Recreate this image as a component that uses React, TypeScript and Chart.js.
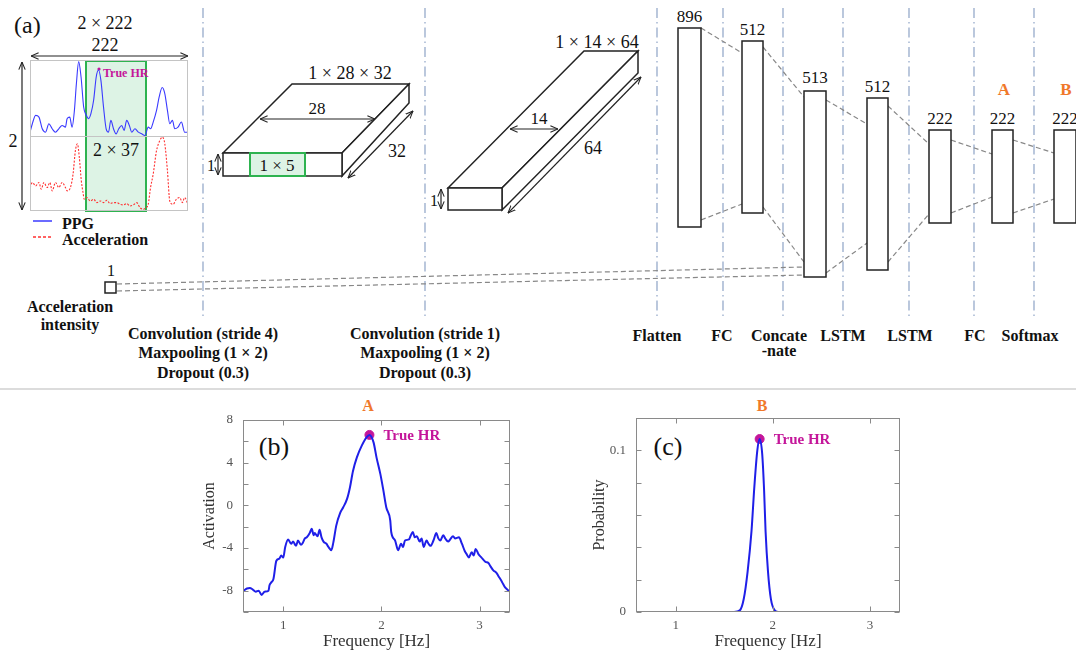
import React, { useEffect, useRef } from 'react';
import { Chart, registerables } from 'chart.js';
Chart.register(...registerables);

// ---------- data: (b) activation of layer A ----------
const activationA: [number, number][] = [
  [0.59, -8.05], [0.63, -7.8], [0.66, -7.75], [0.69, -7.9], [0.72, -8.1], [0.75, -8.0], [0.78, -8.4],
  [0.81, -8.1], [0.85, -8.0], [0.86, -7.5], [0.88, -7.2], [0.9, -6.9], [0.93, -5.2], [0.96, -5.0],
  [0.98, -4.7], [1.0, -4.9], [1.02, -3.9], [1.05, -3.2], [1.08, -3.6], [1.1, -3.4], [1.13, -3.8],
  [1.15, -3.3], [1.18, -3.7], [1.2, -3.5], [1.22, -3.1], [1.24, -3.0], [1.27, -2.6], [1.29, -2.2],
  [1.31, -2.8], [1.32, -2.6], [1.35, -2.9], [1.37, -2.3], [1.39, -3.0], [1.41, -3.4], [1.44, -3.6],
  [1.46, -3.9], [1.49, -4.2], [1.51, -3.5], [1.54, -1.9], [1.58, -0.7], [1.61, -0.2], [1.65, 0.6],
  [1.68, 1.7], [1.71, 3.2], [1.75, 4.5], [1.8, 5.6], [1.85, 6.4], [1.878, 6.6], [1.92, 5.9],
  [1.95, 4.5], [1.99, 2.9], [2.02, 1.4], [2.05, -0.2], [2.09, -1.4], [2.1, -2.5], [2.14, -3.3],
  [2.17, -4.2], [2.2, -3.6], [2.22, -3.9], [2.24, -3.3], [2.28, -3.2], [2.3, -2.8], [2.32, -2.5],
  [2.34, -3.0], [2.36, -2.9], [2.39, -3.4], [2.41, -3.1], [2.43, -3.9], [2.46, -3.3], [2.48, -3.6],
  [2.5, -3.8], [2.53, -3.3], [2.56, -2.6], [2.58, -3.1], [2.6, -3.3], [2.63, -2.8], [2.65, -3.1],
  [2.68, -3.4], [2.7, -3.2], [2.73, -2.9], [2.75, -3.1], [2.79, -3.0], [2.82, -3.6], [2.85, -4.3],
  [2.87, -4.6], [2.89, -4.9], [2.92, -4.4], [2.94, -4.7], [2.96, -4.1], [2.99, -4.6], [3.02, -4.9],
  [3.06, -5.3], [3.09, -5.4], [3.11, -5.7], [3.14, -6.1], [3.17, -6.3], [3.19, -6.6], [3.23, -7.2],
  [3.26, -7.7], [3.31, -8.1],
];
const trueHrA: [number, number] = [1.878, 6.6];

// ---------- data: (c) softmax probability of layer B ----------
const probabilityB: [number, number][] = [
  [0.59, 0], [1.6, 0], [1.66, 0.001], [1.7, 0.008], [1.74, 0.025], [1.78, 0.05], [1.81, 0.078],
  [1.84, 0.1], [1.864, 0.107], [1.89, 0.098], [1.91, 0.075], [1.925, 0.05], [1.95, 0.025],
  [1.98, 0.008], [2.02, 0.001], [2.06, 0], [3.31, 0],
];
const trueHrB: [number, number] = [1.864, 0.107];

// ---------- data: input inset (index 0..222, PPG upper half, acceleration lower half) ----------
const ppgSignal: [number, number][] = [
  [0, 1.044], [3.3, 1.156], [7.9, 1.267], [12.6, 1.244], [17.2, 1.089], [21.9, 1.044], [26.5, 1.156],
  [31.2, 1.089], [35.8, 1.044], [40.5, 1.089], [45.1, 1.133], [49.8, 1.111], [52.1, 1.222], [55.8, 1.244],
  [59.1, 1.111], [62.4, 1.333], [65.2, 1.689], [68.4, 1.978], [71.7, 1.778], [75.4, 1.378], [79.1, 1.267],
  [82.4, 1.222], [85.6, 1.289], [89.4, 1.467], [93.1, 1.778], [96.3, 1.867], [99.6, 1.733], [103.3, 1.378],
  [107.0, 1.089], [110.3, 1.044], [113.6, 1.2], [117.3, 1.089], [121.0, 1.022], [124.7, 1.089],
  [128.9, 1.133], [132.2, 1.067], [135.9, 1.2], [139.6, 1.133], [142.9, 1.044], [147.5, 1.089],
  [152.2, 1.044], [156.8, 1.022], [161.5, 1.0], [166.1, 1.111], [169.4, 1.089], [173.1, 1.178],
  [177.8, 1.333], [181.5, 1.511], [185.7, 1.636], [189.4, 1.556], [193.1, 1.333], [196.4, 1.156],
  [200.1, 1.2], [203.4, 1.089], [208.0, 1.111], [212.7, 1.178], [217.3, 1.044], [222, 1.044],
];
const accSignal: [number, number][] = [
  [0, 0.311], [3.3, 0.378], [7.9, 0.333], [12.6, 0.378], [15.8, 0.289], [19.5, 0.378], [24.2, 0.311],
  [27.9, 0.378], [31.2, 0.267], [35.8, 0.378], [40.5, 0.311], [45.1, 0.378], [49.8, 0.311], [52.1, 0.267],
  [56.8, 0.311], [60.5, 0.489], [63.8, 0.8], [66.6, 0.889], [69.3, 0.711], [72.1, 0.4], [74.5, 0.244],
  [76.3, 0.156], [80.0, 0.178], [84.7, 0.133], [89.4, 0.156], [94.0, 0.111], [98.7, 0.133], [103.3, 0.111],
  [108.0, 0.142], [112.6, 0.098], [117.3, 0.111], [121.9, 0.111], [126.6, 0.089], [131.2, 0.08],
  [135.9, 0.098], [140.6, 0.067], [145.2, 0.08], [149.9, 0.111], [154.5, 0.044], [159.2, 0.022],
  [162.9, 0.044], [166.1, 0.089], [169.4, 0.311], [173.1, 0.489], [177.8, 0.8], [182.4, 0.933],
  [185.7, 0.978], [189.4, 0.889], [193.1, 0.533], [196.4, 0.133], [201.1, 0.089], [205.7, 0.156],
  [210.4, 0.178], [214.1, 0.111], [217.3, 0.178], [222, 0.089],
];

const xTickValues = [1, 2, 3];
const layerLabels = ['Flatten', 'FC', 'Concate', 'LSTM', 'LSTM', 'FC', 'Softmax'];

const SERIF = "'Liberation Serif', 'DejaVu Serif', serif";
const BLUE = '#1f1fe8';
const MAGENTA = '#c4169a';
const ORANGE = '#f0782a';

const toXY = (arr: [number, number][]) => arr.map(([x, y]) => ({ x, y }));

// Matlab-like frame with inward ticks + axis titles
const framePlugin = {
  id: 'frameTicks',
  afterDatasetsDraw(chart: any, _a: any, o: any) {
    const { ctx, chartArea: a } = chart;
    const xs = chart.scales.x;
    const ys = chart.scales.y;
    ctx.save();
    ctx.strokeStyle = o.color || '#999';
    ctx.lineWidth = 1;
    const l = Math.round(a.left) + 0.5, r = Math.round(a.right) - 0.5;
    const t = Math.round(a.top) + 0.5, b = Math.round(a.bottom) - 0.5;
    ctx.strokeRect(l, t, r - l, b - t);
    if (o.midLine !== undefined) {
      const y = Math.round(ys.getPixelForValue(o.midLine)) + 0.5;
      ctx.beginPath(); ctx.moveTo(l, y); ctx.lineTo(r, y); ctx.stroke();
    }
    if (o.len) {
      const L = o.len;
      ctx.beginPath();
      xs.ticks.forEach((tk: any) => {
        const x = Math.round(xs.getPixelForValue(tk.value)) + 0.5;
        ctx.moveTo(x, b); ctx.lineTo(x, b - L);
        ctx.moveTo(x, t); ctx.lineTo(x, t + L);
      });
      ys.ticks.forEach((tk: any) => {
        const y = Math.round(ys.getPixelForValue(tk.value)) + 0.5;
        ctx.moveTo(l, y); ctx.lineTo(l + L, y);
        ctx.moveTo(r, y); ctx.lineTo(r - L, y);
      });
      ctx.stroke();
    }
    ctx.fillStyle = '#333';
    if (o.xTitle) {
      ctx.font = `17px ${SERIF}`;
      ctx.textAlign = 'center';
      ctx.textBaseline = 'middle';
      ctx.fillText(o.xTitle, (a.left + a.right) / 2, a.bottom + o.xTitleOffset);
    }
    if (o.yTitle) {
      ctx.save();
      ctx.font = `16px ${SERIF}`;
      ctx.textAlign = 'center';
      ctx.textBaseline = 'middle';
      ctx.translate(a.left - o.yTitleOffset, (a.top + a.bottom) / 2);
      ctx.rotate(-Math.PI / 2);
      ctx.fillText(o.yTitle, 0, 0);
      ctx.restore();
    }
    if (o.hrDataset !== undefined) {
      const el = chart.getDatasetMeta(o.hrDataset).data[0];
      if (el) {
        ctx.font = `bold 15px ${SERIF}`;
        ctx.fillStyle = MAGENTA;
        ctx.textAlign = 'left';
        ctx.textBaseline = 'middle';
        ctx.fillText('True HR', el.x + 14, el.y + 1);
      }
    }
    ctx.restore();
  },
};

function ChartCanvas({ left, top, width, height, config }: any) {
  const ref = useRef<HTMLCanvasElement>(null);
  useEffect(() => {
    const chart = new Chart(ref.current as HTMLCanvasElement, config);
    return () => chart.destroy();
  }, []);
  return (
    <canvas
      ref={ref}
      width={width}
      height={height}
      style={{ position: 'absolute', left, top, width, height, display: 'block' }}
    />
  );
}

function spectrumConfig(opts: {
  series: [number, number][];
  hr: [number, number];
  yMin: number; yMax: number; yStep: number;
  yLabel: (v: number) => string;
  yAxisWidth: number; padTop: number; padRight: number;
  yTitle: string; yTitleOffset: number;
}) {
  return {
    type: 'line',
    data: {
      datasets: [
        {
          data: toXY(opts.series),
          borderColor: BLUE,
          borderWidth: 2,
          pointRadius: 0,
          tension: 0.3,
          cubicInterpolationMode: 'monotone',
        },
        {
          data: toXY([opts.hr]),
          showLine: false,
          pointRadius: 4.5,
          pointBackgroundColor: MAGENTA,
          pointBorderColor: MAGENTA,
        },
      ],
    },
    options: {
      responsive: false,
      animation: false,
      layout: { padding: { top: opts.padTop, right: opts.padRight, left: 0, bottom: 0 } },
      plugins: {
        legend: { display: false },
        tooltip: { enabled: false },
        frameTicks: {
          color: '#8a8a8a', len: 5,
          xTitle: 'Frequency [Hz]', xTitleOffset: 30,
          yTitle: opts.yTitle, yTitleOffset: opts.yTitleOffset,
          hrDataset: 1,
        },
      },
      scales: {
        x: {
          type: 'linear', min: 0.59, max: 3.31,
          grid: { display: false, drawTicks: false },
          border: { display: false },
          afterBuildTicks: (s: any) => { s.ticks = xTickValues.map((v) => ({ value: v })); },
          afterFit: (s: any) => { s.height = 39; },
          ticks: { padding: 6, color: '#555', font: { family: SERIF, size: 13 }, callback: (v: any) => String(v) },
        },
        y: {
          type: 'linear', min: opts.yMin, max: opts.yMax,
          grid: { display: false, drawTicks: false },
          border: { display: false },
          afterFit: (s: any) => { s.width = opts.yAxisWidth; },
          ticks: {
            stepSize: opts.yStep, padding: 10, color: '#555',
            font: { family: SERIF, size: 13 },
            callback: (v: any) => opts.yLabel(Number(v)),
          },
        },
      },
    },
    plugins: [framePlugin],
  };
}

const configB = spectrumConfig({
  series: activationA, hr: trueHrA,
  yMin: -10, yMax: 8, yStep: 2,
  yLabel: (v) => (Math.round(v) % 4 === 0 ? String(Math.round(v)) : ''),
  yAxisWidth: 63, padTop: 20, padRight: 10,
  yTitle: 'Activation', yTitleOffset: 33,
});

const configC = spectrumConfig({
  series: probabilityB, hr: trueHrB,
  yMin: 0, yMax: 0.12, yStep: 0.02,
  yLabel: (v) => (Math.abs(v) < 1e-9 ? '0' : Math.abs(v - 0.1) < 1e-9 ? '0.1' : ''),
  yAxisWidth: 66, padTop: 18, padRight: 10,
  yTitle: 'Probability', yTitleOffset: 36,
});

const configInset = {
  type: 'line',
  data: {
    datasets: [
      {
        data: toXY(ppgSignal), borderColor: '#3a3aff', borderWidth: 1.1, pointRadius: 0,
        tension: 0.4, cubicInterpolationMode: 'monotone',
      },
      {
        data: toXY(accSignal), borderColor: '#ff3030', borderWidth: 1.1, pointRadius: 0,
        borderDash: [2, 1.5], tension: 0.4, cubicInterpolationMode: 'monotone',
      },
    ],
  },
  options: {
    responsive: false,
    animation: false,
    layout: { padding: 0 },
    plugins: {
      legend: { display: false },
      tooltip: { enabled: false },
      frameTicks: { color: '#c4c4c4', len: 0, midLine: 1 },
    },
    scales: {
      x: { type: 'linear', min: 0, max: 222, display: false },
      y: { type: 'linear', min: 0, max: 2, display: false },
    },
  },
  plugins: [framePlugin],
};

// ---------- diagram overlay ----------
function Arrow({ x1, y1, x2, y2 }: any) {
  return (
    <line x1={x1} y1={y1} x2={x2} y2={y2} stroke="#222" strokeWidth={1.2}
      markerStart="url(#ah)" markerEnd="url(#ah)" />
  );
}

function T({ x, y, s = 17, bold = false, anchor = 'middle', fill = '#111', children }: any) {
  return (
    <text x={x} y={y} fontSize={s} fontFamily={SERIF} fontWeight={bold ? 'bold' : 'normal'}
      textAnchor={anchor} fill={fill}>{children}</text>
  );
}

const vLines = [203, 425, 657, 723, 783, 843, 909, 974, 1034];
const layerX = [657, 722, 779, 843, 910, 975, 1030];

function Diagram() {
  const dash = { stroke: '#888', strokeWidth: 1.2, strokeDasharray: '5 3' };
  const box = { fill: '#fff', stroke: '#222', strokeWidth: 1.5 };
  const boxes = [
    { x: 678, y: 28, w: 23, h: 199, label: '896', ly: 22 },
    { x: 742, y: 41, w: 21, h: 172, label: '512', ly: 35 },
    { x: 804, y: 91, w: 22, h: 186, label: '513', ly: 83 },
    { x: 867, y: 98, w: 21, h: 172, label: '512', ly: 92 },
    { x: 929, y: 130, w: 22, h: 93, label: '222', ly: 124 },
    { x: 992, y: 130, w: 21, h: 93, label: '222', ly: 124 },
    { x: 1054, y: 130, w: 22, h: 93, label: '222', ly: 124 },
  ];
  const connectors = [
    [701, 28, 742, 53], [701, 220, 742, 204], [763, 47, 804, 97], [763, 207, 804, 262],
    [826, 100, 867, 124], [826, 273, 867, 243], [888, 106, 929, 144], [888, 262, 929, 214],
    [951, 140, 992, 154], [951, 213, 992, 197], [1013, 140, 1054, 153], [1013, 213, 1054, 199],
  ];
  return (
    <svg width={1076} height={651} style={{ position: 'absolute', left: 0, top: 0 }}>
      <defs>
        <marker id="ah" viewBox="0 0 10 10" refX="9.5" refY="5" markerWidth="8" markerHeight="8"
          markerUnits="userSpaceOnUse" orient="auto-start-reverse">
          <path d="M0,1 L9.5,5 L0,9" fill="none" stroke="#222" strokeWidth="1.3" />
        </marker>
      </defs>
      <line x1={0} y1={389} x2={1076} y2={389} stroke="#dcdcdc" strokeWidth={2} />
      {vLines.map((x) => (
        <line key={x} x1={x} y1={8} x2={x} y2={320} stroke="#8ea3c6" strokeWidth={1.2}
          strokeDasharray="10 4 1.5 4" />
      ))}
      {/* acceleration intensity connectors */}
      <line x1={117} y1={284} x2={804} y2={267} {...dash} />
      <line x1={117} y1={291} x2={804} y2={275} {...dash} />
      {connectors.map((c, i) => (
        <line key={i} x1={c[0]} y1={c[1]} x2={c[2]} y2={c[3]} {...dash} />
      ))}
      {boxes.map((b, i) => (
        <g key={i}>
          <rect x={b.x} y={b.y} width={b.w} height={b.h} {...box} />
          <T x={b.x + b.w / 2} y={b.ly} s={17}>{b.label}</T>
        </g>
      ))}
      <T x={1004} y={95} s={17} bold fill={ORANGE}>A</T>
      <T x={1066} y={95} s={17} bold fill={ORANGE}>B</T>

      {/* (a) input */}
      <T x={14} y={33} s={24} anchor="start">(a)</T>
      <T x={105} y={29} s={18}>2 × 222</T>
      <T x={105} y={51} s={18}>222</T>
      <Arrow x1={31} y1={56} x2={188} y2={56} />
      <Arrow x1={22} y1={62} x2={22} y2={210} />
      <T x={13} y={147} s={18}>2</T>
      <rect x={86} y={61} width={60} height={150} fill="rgba(170,225,190,0.4)" stroke="#2eb350" strokeWidth={2} />
      <circle cx={99} cy={69} r={1.6} fill={MAGENTA} />
      <T x={103} y={77} s={12} bold anchor="start" fill={MAGENTA}>True HR</T>
      <T x={116} y={156} s={18}>2 × 37</T>
      <line x1={33} y1={221} x2={52} y2={221} stroke="#3a3aff" strokeWidth={1.5} />
      <T x={62} y={229} s={16} bold anchor="start">PPG</T>
      <line x1={33} y1={237} x2={52} y2={237} stroke="#ff3030" strokeWidth={1.5} strokeDasharray="3 2" />
      <T x={62} y={245} s={16} bold anchor="start">Acceleration</T>

      {/* acceleration intensity */}
      <T x={111} y={276} s={16}>1</T>
      <rect x={105} y={282} width={11} height={11} fill="#fff" stroke="#222" strokeWidth={1.5} />
      <T x={70} y={312} s={16} bold>Acceleration</T>
      <T x={70} y={330} s={16} bold>intensity</T>

      {/* conv block 1 */}
      <polygon points="223,153 292,84 409,84 342,153" {...box} />
      <polygon points="342,153 409,84 409,103 342,176" {...box} />
      <rect x={223} y={153} width={119} height={23} {...box} />
      <rect x={250} y={153} width={55} height={23} fill="rgba(170,225,190,0.4)" stroke="#2eb350" strokeWidth={2} />
      <T x={277} y={171} s={17}>1 × 5</T>
      <T x={350} y={79} s={18}>1 × 28 × 32</T>
      <Arrow x1={260} y1={119} x2={375} y2={119} />
      <T x={317} y={114} s={17}>28</T>
      <Arrow x1={413} y1={111} x2={348} y2={178} />
      <T x={397} y={157} s={18}>32</T>
      <Arrow x1={218} y1={154} x2={218} y2={175} />
      <T x={211} y={171} s={16}>1</T>

      {/* conv block 2 */}
      <polygon points="448,188 584,51 638,51 502,188" {...box} />
      <polygon points="502,188 638,51 638,73 502,210" {...box} />
      <rect x={448} y={188} width={54} height={22} {...box} />
      <T x={597} y={48} s={18}>1 × 14 × 64</T>
      <Arrow x1={510} y1={129} x2={558} y2={129} />
      <T x={539} y={124} s={17}>14</T>
      <Arrow x1={641} y1={77} x2={508} y2={213} />
      <T x={593} y={154} s={18}>64</T>
      <Arrow x1={441} y1={189} x2={441} y2={209} />
      <T x={434} y={206} s={16}>1</T>

      {/* layer labels */}
      <T x={203} y={339} s={16} bold>Convolution (stride 4)</T>
      <T x={203} y={358} s={16} bold>Maxpooling (1 × 2)</T>
      <T x={203} y={378} s={16} bold>Dropout (0.3)</T>
      <T x={425} y={339} s={16} bold>Convolution (stride 1)</T>
      <T x={425} y={358} s={16} bold>Maxpooling (1 × 2)</T>
      <T x={425} y={378} s={16} bold>Dropout (0.3)</T>
      {layerLabels.map((l, i) => (
        <T key={i} x={layerX[i]} y={341} s={16} bold>{l}</T>
      ))}
      <T x={779} y={356} s={16} bold>-nate</T>

      {/* bottom panels */}
      <T x={368} y={411} s={16} bold fill={ORANGE}>A</T>
      <T x={762} y={411} s={16} bold fill={ORANGE}>B</T>
      <T x={274} y={455} s={26}>(b)</T>
      <T x={668} y={455} s={26}>(c)</T>
    </svg>
  );
}

export default function App() {
  return (
    <div style={{ position: 'absolute', left: 0, top: 0, width: 1076, height: 651, background: '#fff', overflow: 'hidden' }}>
      <Diagram />
      <ChartCanvas left={30} top={60} width={158} height={151} config={configInset} />
      <ChartCanvas left={180} top={400} width={340} height={251} config={configB} />
      <ChartCanvas left={570} top={400} width={340} height={251} config={configC} />
    </div>
  );
}
